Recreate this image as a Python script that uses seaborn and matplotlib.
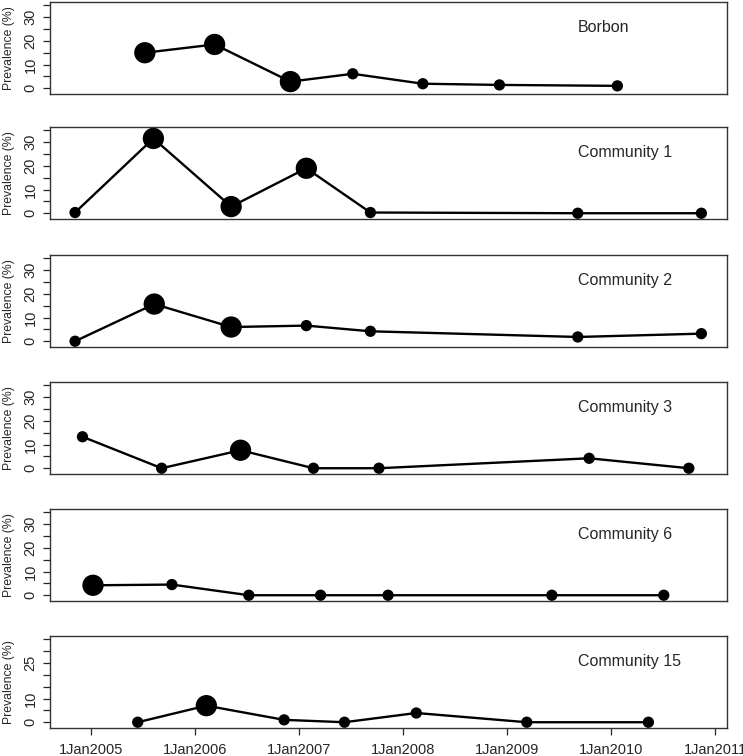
import numpy as np
import pandas as pd
import matplotlib
matplotlib.use("Agg")
import matplotlib.pyplot as plt
import seaborn as sns

# ── Data ─────────────────────────────────────────────────────────────────────
SITES = ["Borbon", "Community 1", "Community 2", "Community 3",
         "Community 6", "Community 15"]

borbon_dates = ["2005-07-09", "2006-03-11", "2006-12-02", "2007-07-09",
                "2008-03-11", "2008-12-05", "2010-01-23"]
borbon_prev = [15.0, 18.5, 2.8, 6.1, 1.9, 1.4, 1.0]
borbon_large = [1, 1, 1, 0, 0, 0, 0]

c1_dates = ["2004-11-06", "2005-08-08", "2006-05-08", "2007-01-27",
            "2007-09-09", "2009-09-06", "2010-11-14"]
c1_prev = [0.3, 31.6, 2.8, 19.0, 0.3, 0.0, 0.0]
c1_large = [0, 1, 1, 1, 0, 0, 0]

c2_dates = ["2004-11-06", "2005-08-11", "2006-05-08", "2007-01-27",
            "2007-09-09", "2009-09-06", "2010-11-14"]
c2_prev = [0.0, 15.7, 6.0, 6.6, 4.2, 1.8, 3.2]
c2_large = [0, 1, 1, 0, 0, 0, 0]

c3_dates = ["2004-12-02", "2005-09-06", "2006-06-10", "2007-02-21",
            "2007-10-09", "2009-10-16", "2010-10-01"]
c3_prev = [13.3, 0.0, 7.6, 0.0, 0.0, 4.2, 0.0]
c3_large = [0, 0, 1, 0, 0, 0, 0]

c6_dates = ["2005-01-08", "2005-10-12", "2006-07-09", "2007-03-18",
            "2007-11-10", "2009-06-07", "2010-07-05"]
c6_prev = [4.2, 4.5, 0.0, 0.0, 0.0, 0.0, 0.0]
c6_large = [1, 0, 0, 0, 0, 0, 0]

c15_dates = ["2005-06-14", "2006-02-10", "2006-11-10", "2007-06-10",
             "2008-02-17", "2009-03-11", "2010-05-12"]
c15_prev = [0.0, 7.0, 1.0, 0.0, 3.9, 0.0, 0.0]
c15_large = [0, 1, 0, 0, 0, 0, 0]

YEARS = [2005, 2006, 2007, 2008, 2009, 2010, 2011]

series = [
    (borbon_dates, borbon_prev, borbon_large),
    (c1_dates, c1_prev, c1_large),
    (c2_dates, c2_prev, c2_large),
    (c3_dates, c3_prev, c3_large),
    (c6_dates, c6_prev, c6_large),
    (c15_dates, c15_prev, c15_large),
]

frames = []
for site, (d, p, l) in zip(SITES, series):
    frames.append(pd.DataFrame({"site": site, "date": pd.to_datetime(d),
                                "prev": p, "large": l}))
df = pd.concat(frames, ignore_index=True)

# ── Figure ───────────────────────────────────────────────────────────────────
sns.set_style("white")
plt.rcParams["font.family"] = ["Liberation Sans", "DejaVu Sans"]

W, H = 743, 756
fig = plt.figure(figsize=(W / 100, H / 100), dpi=100)

left, right = 50, 727
tops = [2, 127, 255, 382, 509, 636]
ph = 92

for i, site in enumerate(SITES):
    ax = fig.add_axes([left / W, 1 - (tops[i] + ph) / H,
                       (right - left) / W, ph / H])
    sub = df[df["site"] == site]
    sns.lineplot(data=sub, x="date", y="prev", color="black", lw=1.7,
                 ax=ax, legend=False)
    sns.scatterplot(data=sub, x="date", y="prev", size="large",
                    sizes={0: 66, 1: 235}, color="black", edgecolor="none",
                    ax=ax, legend=False, zorder=3)

    ax.set_xlim(pd.Timestamp("2004-08-10"), pd.Timestamp("2011-02-12"))
    ax.set_ylim(-2.44, 36.44)

    yt = list(range(0, 36, 5))
    shown = {0, 10, 25} if i == len(SITES) - 1 else {0, 10, 20, 30}
    ax.set_yticks(yt)
    ax.set_yticklabels([str(v) if v in shown else "" for v in yt],
                       rotation=90, va="center", fontsize=10.5)
    ax.tick_params(axis="y", length=5, width=0.9, pad=4, left=True)

    ax.set_ylabel("Prevalence (%)", fontsize=8.8)
    ax.yaxis.set_label_coords(-0.052, 0.5)

    xt = [pd.Timestamp(f"{y}-01-01") for y in YEARS]
    ax.set_xticks(xt)
    if i == len(SITES) - 1:
        ax.set_xticklabels([f"1Jan{y}" for y in YEARS], fontsize=10.5)
        ax.tick_params(axis="x", length=5, width=0.9, pad=6, bottom=True)
    else:
        ax.set_xticklabels([])
        ax.tick_params(axis="x", length=0)
    ax.set_xlabel("")

    for sp in ax.spines.values():
        sp.set_color("#333333")
        sp.set_linewidth(1.0)

    ax.text(0.78, 0.728, site, transform=ax.transAxes, fontsize=11.5,
            ha="left", va="center")

plt.savefig("out.png", dpi=100)
